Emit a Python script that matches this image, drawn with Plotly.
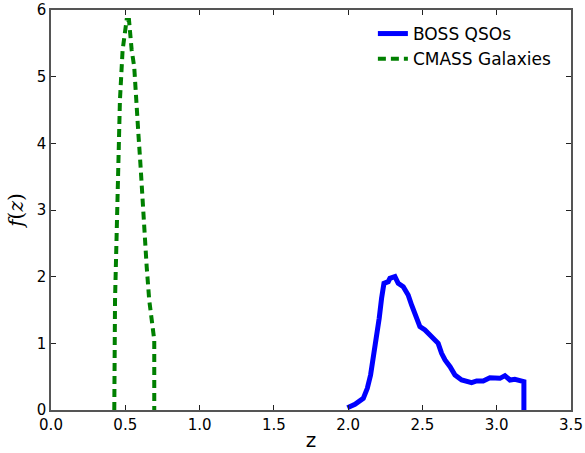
import plotly.graph_objects as go

# BOSS QSO redshift distribution
qso_z = [1.995, 2.046, 2.102, 2.129, 2.151, 2.169, 2.187, 2.209, 2.225, 2.241, 2.27, 2.281,
         2.315, 2.337, 2.371, 2.404, 2.427, 2.461, 2.483, 2.517, 2.562, 2.606, 2.629, 2.652,
         2.686, 2.719, 2.764, 2.797, 2.831, 2.865, 2.909, 2.954, 2.987, 3.022, 3.055, 3.089,
         3.122, 3.155, 3.183, 3.183]
qso_f = [0.035, 0.085, 0.175, 0.325, 0.525, 0.775, 1.075, 1.375, 1.675, 1.9, 1.925, 1.975,
         2.0, 1.9, 1.85, 1.725, 1.575, 1.375, 1.25, 1.2, 1.1, 1.0, 0.85, 0.75,
         0.65, 0.525, 0.45, 0.435, 0.41, 0.435, 0.435, 0.485, 0.485, 0.475, 0.515, 0.45,
         0.46, 0.435, 0.425, 0.0]

# CMASS galaxy redshift distribution
cmass_z = [0.426, 0.431, 0.442, 0.455, 0.464, 0.482, 0.509, 0.525, 0.543, 0.56, 0.572,
           0.588, 0.603, 0.615, 0.626, 0.644, 0.661, 0.684, 0.695, 0.695]
cmass_f = [0.0, 1.65, 2.65, 3.65, 4.65, 5.4, 5.85, 5.85, 5.4, 5.15, 4.65,
           4.15, 3.65, 3.15, 2.65, 2.15, 1.65, 1.15, 1.05, 0.0]

x_ticks = [0.0, 0.5, 1.0, 1.5, 2.0, 2.5, 3.0, 3.5]
y_ticks = [0, 1, 2, 3, 4, 5, 6]

fig = go.Figure()
fig.add_trace(go.Scatter(x=qso_z, y=qso_f, mode="lines", name="BOSS QSOs",
                         line=dict(color="#0000ff", width=5)))
fig.add_trace(go.Scatter(x=cmass_z, y=cmass_f, mode="lines", name="CMASS Galaxies",
                         line=dict(color="#008000", width=4, dash="8px,5px")))

axis_common = dict(showgrid=False, zeroline=False, showline=True, linecolor="#555555",
                   linewidth=1.5, mirror="allticks", ticks="inside", ticklen=5,
                   tickcolor="#222222", automargin=False,
                   tickfont=dict(family="DejaVu Sans", size=15, color="black"))

fig.update_xaxes(range=[0, 3.5], tickvals=x_ticks, ticktext=[f"{v:.1f}" for v in x_ticks],
                 title=dict(text="z", font=dict(family="DejaVu Sans", size=20, color="black"),
                            standoff=0), **axis_common)
fig.update_yaxes(range=[0, 6], tickvals=y_ticks, ticktext=[str(v) for v in y_ticks],
                 title=dict(text="<i>f</i>(<i>z</i>)", font=dict(family="DejaVu Serif", size=20, color="black"),
                            standoff=8), **axis_common)

fig.update_layout(width=585, height=453, margin=dict(l=51, r=14, t=10, b=43),
                  plot_bgcolor="white", paper_bgcolor="white",
                  legend=dict(x=0.619, y=0.985, xanchor="left", yanchor="top",
                              bgcolor="rgba(0,0,0,0)", font=dict(family="DejaVu Sans", size=17, color="black"),
                              itemwidth=30, tracegroupgap=0))
fig.write_html("out.html", config={"displayModeBar": False},
               post_script="document.body.style.margin='0px';")
